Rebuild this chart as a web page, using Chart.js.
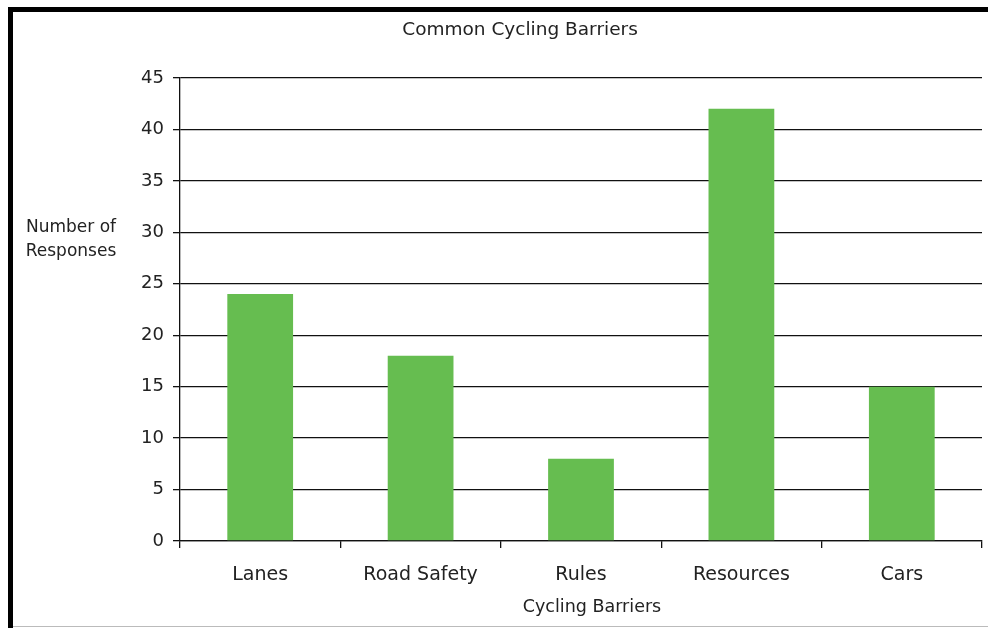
<!DOCTYPE html>
<html>
<head>
<meta charset="utf-8">
<script src="https://cdn.jsdelivr.net/npm/chart.js@4/dist/chart.umd.min.js"></script>
<style>
  html, body { margin: 0; padding: 0; background: #fff; }
  #wrap { position: relative; width: 988px; height: 628px; overflow: hidden; background: #fff; }
  #c { position: absolute; left: 0; top: 0; }
  .frame-top { position: absolute; left: 8px; top: 7px; width: 980px; height: 5px; background: #000; }
  .frame-left { position: absolute; left: 8px; top: 7px; width: 5px; height: 621px; background: #000; }
  .frame-bottom { position: absolute; left: 13px; top: 626px; width: 975px; height: 1px; background: #bbb; }
</style>
</head>
<body>
<div id="wrap">
  <canvas id="c" width="988" height="628"></canvas>
  <div class="frame-top"></div>
  <div class="frame-left"></div>
  <div class="frame-bottom"></div>
</div>
<script>
const categories = ["Lanes", "Road Safety", "Rules", "Resources", "Cars"];
const responses = [24, 18, 8, 42, 15];
const chartTitle = "Common Cycling Barriers";
const xTitle = "Cycling Barriers";
const yTitleLines = ["Number of", "Responses"];

const FONT = "'DejaVu Sans', Verdana, sans-serif";
const TEXT = "#222";
const LINE = "#111";

const textPlugin = {
  id: "textPlugin",
  afterDraw(chart) {
    const ctx = chart.ctx;
    const area = chart.chartArea;
    ctx.save();
    ctx.fillStyle = TEXT;
    ctx.textAlign = "center";
    ctx.textBaseline = "middle";
    ctx.font = "18.5px " + FONT;
    ctx.fillText(chartTitle, 520, 30);
    ctx.font = "17px " + FONT;
    ctx.fillText(yTitleLines[0], 71, 228);
    ctx.fillText(yTitleLines[1], 71, 252);
    ctx.font = "17.5px " + FONT;
    ctx.fillText(xTitle, (area.left + area.right) / 2 + 11, area.bottom + 66);
    ctx.restore();
  }
};

new Chart(document.getElementById("c"), {
  type: "bar",
  data: {
    labels: categories,
    datasets: [{
      data: responses,
      backgroundColor: "#66BD50",
      borderWidth: 0,
      categoryPercentage: 1,
      barPercentage: 0.41
    }]
  },
  options: {
    responsive: false,
    animation: false,
    layout: { padding: { top: 78, right: 6, left: 0, bottom: 0 } },
    plugins: {
      legend: { display: false },
      title: { display: false },
      tooltip: { enabled: false }
    },
    scales: {
      x: {
        offset: true,
        grid: { drawOnChartArea: false, drawTicks: true, offset: true, tickLength: 7, color: LINE, lineWidth: 1.3 },
        border: { color: LINE, width: 1.3 },
        ticks: { font: { size: 19, family: FONT }, color: TEXT, padding: 16 },
        title: { display: false },
        afterFit(s) { s.height = 87; }
      },
      y: {
        min: 0,
        max: 45,
        ticks: { stepSize: 5, font: { size: 18, family: FONT }, color: TEXT, padding: 9 },
        grid: { color: LINE, lineWidth: 1.3, tickLength: 7 },
        border: { color: LINE, width: 1.3 },
        afterFit(s) { s.width = 180; }
      }
    }
  },
  plugins: [textPlugin]
});
</script>
</body>
</html>
